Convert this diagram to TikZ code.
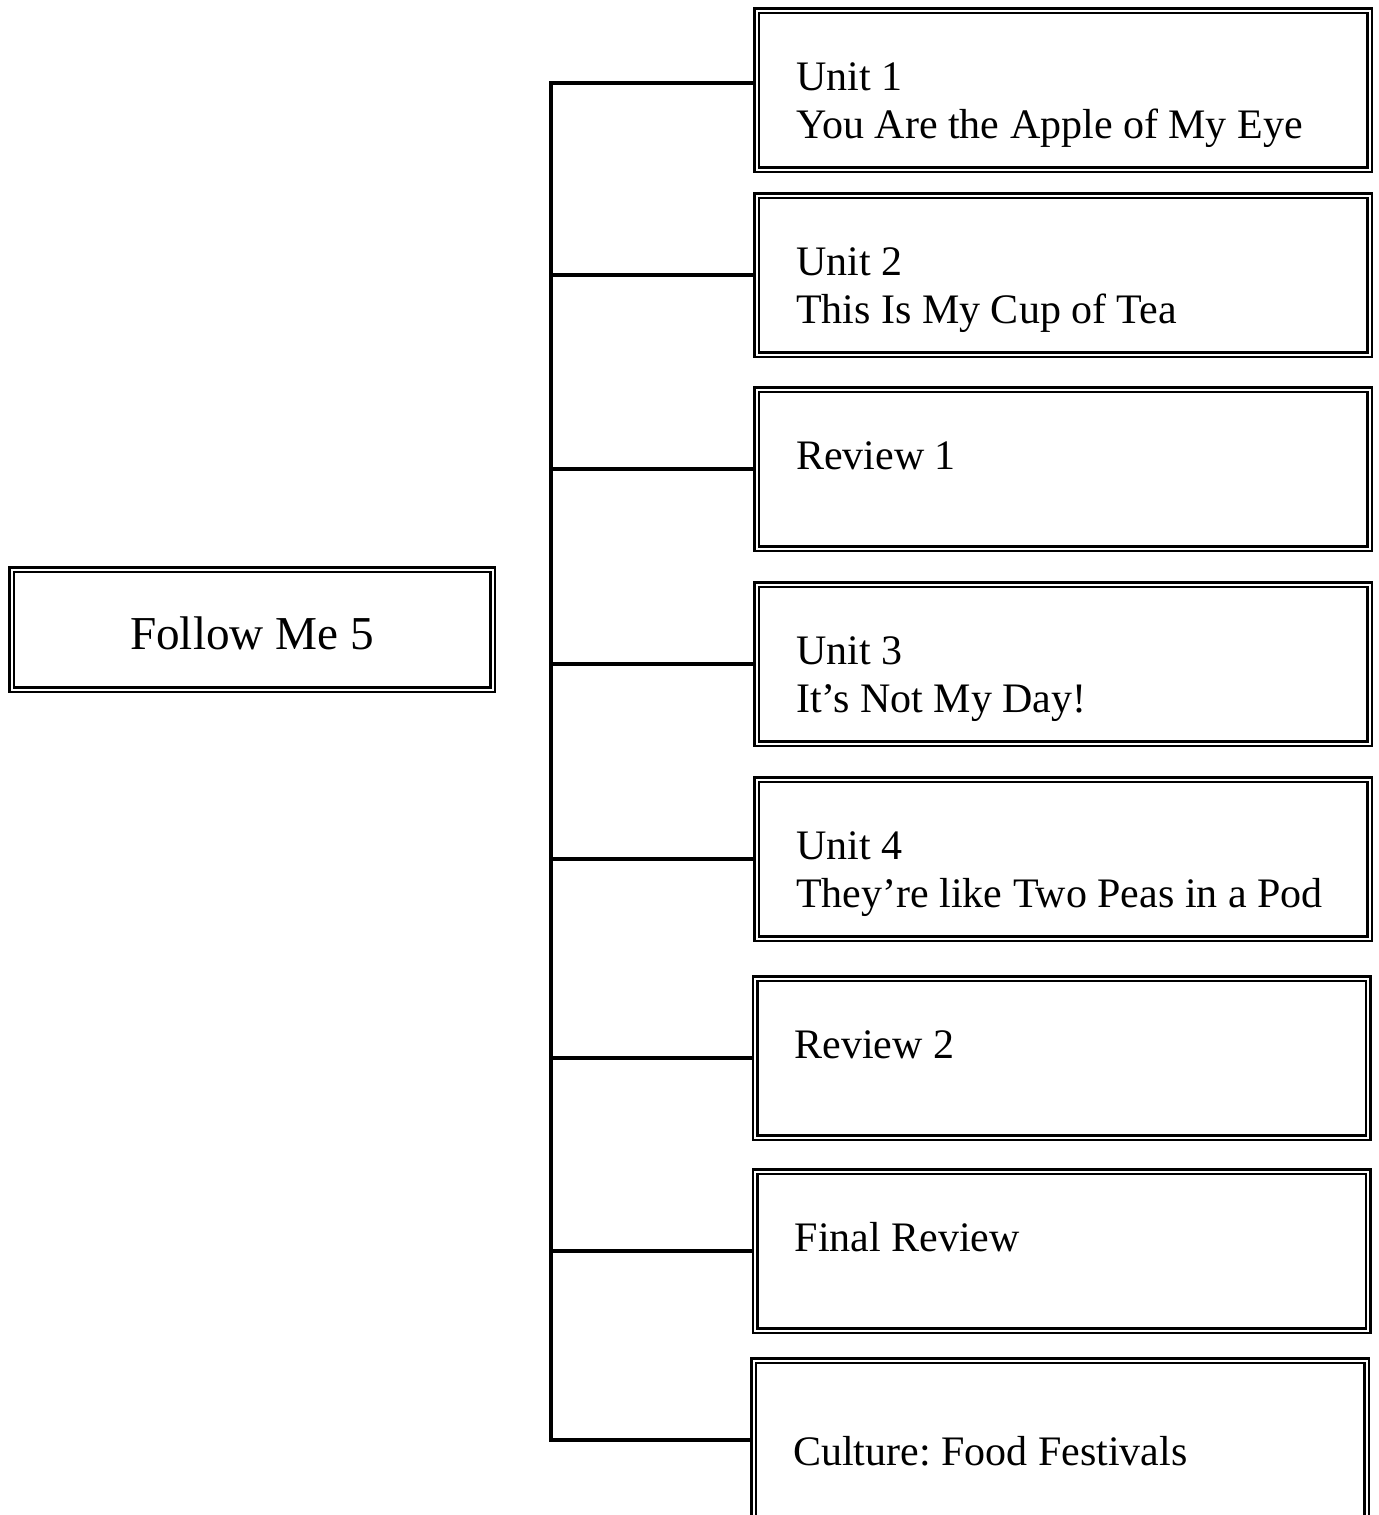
\documentclass[tikz,border=0pt]{standalone}
\usepackage{fontspec}
\setmainfont{Liberation Serif}
\usetikzlibrary{positioning}
\frenchspacing

\newcommand{\unitlines}[2]{\begin{tabular}[t]{@{}l@{}}#1\\#2\end{tabular}}

\begin{document}
\begin{tikzpicture}[x=0.5pt,y=-0.5pt,
        box/.style={draw,double,line width=1.25pt,double distance=1pt,inner sep=0pt,
                    minimum width=306.5pt,minimum height=79.5pt},
        lbl/.style={anchor=base west,inner sep=0pt,font=\fontsize{21}{24}\selectfont},
        branch/.style={line width=1.6pt}]

  \useasboundingbox (0,0) rectangle (1379,1515);

  \node[box,minimum width=240.5pt,minimum height=60pt,text height=19.5pt,text depth=0pt,
        font=\fontsize{23.6}{28}\selectfont] (root) at (252,629.5) {Follow Me 5};

  \node[box] (b1) at (1063,90) {};
  \node[box] (b2) at (1063,275) {};
  \node[box] (b3) at (1063,469) {};
  \node[box] (b4) at (1063,664) {};
  \node[box] (b5) at (1063,859) {};
  \node[box] (b6) at (1061.5,1058) {};
  \node[box] (b7) at (1061.5,1251) {};
  \node[box] (b8) at (1060,1440) {};

  \node[lbl] (t1) at ([shift={(40.5,81.5)}]b1.north west) {\unitlines{Unit 1}{You Are the Apple of My Eye}};
  \node[lbl] (t2) at ([shift={(40.5,81.5)}]b2.north west) {\unitlines{Unit 2}{This Is My Cup of Tea}};
  \node[lbl] (t3) at ([shift={(40.5,81.5)}]b3.north west) {Review 1};
  \node[lbl] (t4) at ([shift={(40.5,81.5)}]b4.north west) {\unitlines{Unit 3}{It’s Not My Day!}};
  \node[lbl] (t5) at ([shift={(40.5,81.5)}]b5.north west) {\unitlines{Unit 4}{They’re like Two Peas in a Pod}};
  \node[lbl] (t6) at ([shift={(40.5,81.5)}]b6.north west) {Review 2};
  \node[lbl] (t7) at ([shift={(40.5,81.5)}]b7.north west) {Final Review};
  \node[lbl] (t8) at ([shift={(40.5,106.5)}]b8.north west) {Culture: Food Festivals};

  \coordinate (spine) at (551,0);

  \draw[branch] ([yshift=3.5pt]b1.west) -- ([yshift=3.5pt]b1.west -| spine)
        -- (b8.west -| spine) -- (b8.west);
  \foreach \b in {b2,b3,b4,b5,b6,b7}
    \draw[branch] (\b.west) -- (\b.west -| spine);

\end{tikzpicture}
\end{document}
